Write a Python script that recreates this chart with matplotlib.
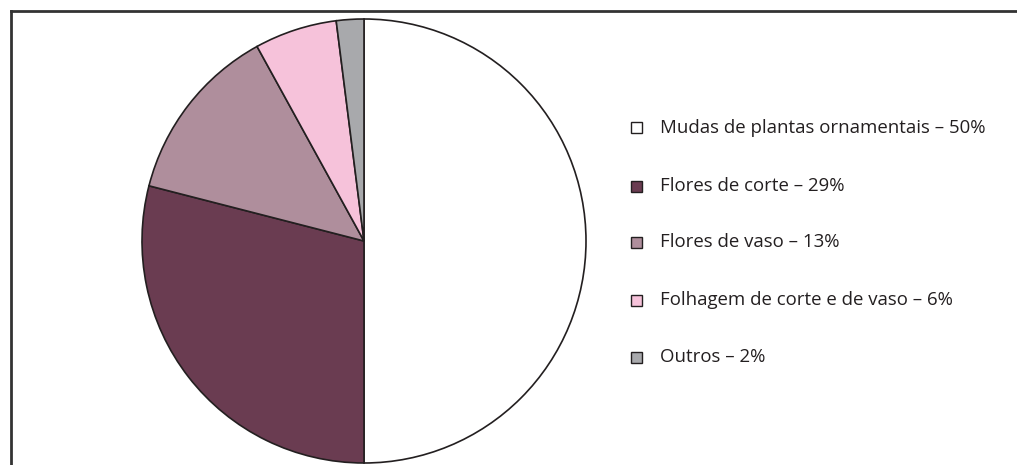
import matplotlib
matplotlib.use("Agg")
import matplotlib.pyplot as plt
from matplotlib.patches import Rectangle
from matplotlib.lines import Line2D

categories = ["Mudas de plantas ornamentais", "Flores de corte", "Flores de vaso",
              "Folhagem de corte e de vaso", "Outros"]
values = [50, 29, 13, 6, 2]
colors = ["#FFFFFF", "#6A3C51", "#AF8E9C", "#F6C2DA", "#A8A9AC"]

plt.rcParams['font.family'] = ['Open Sans', 'DejaVu Sans']

W, H = 1017, 465
fig = plt.figure(figsize=(W / 100, H / 100), dpi=100)

# pie axes: centre (364, 241 from top), radius 222 px
cx, cy, r = 364, H - 241, 222
ax = fig.add_axes([(cx - r) / W, (cy - r) / H, 2 * r / W, 2 * r / H])
wedges, _ = ax.pie(values, colors=colors, startangle=90, counterclock=False, radius=1,
                   wedgeprops=dict(edgecolor="#231F20", linewidth=1.2))
for w in wedges:
    w.set_clip_on(False)
ax.set_xlim(-1.0, 1.0)
ax.set_ylim(-1.0, 1.0)
ax.set_aspect("equal")
ax.axis("off")

# frame lines (top and left)
fig.add_artist(Line2D([10.5 / W, 1.0], [1 - 11.5 / H, 1 - 11.5 / H],
                      transform=fig.transFigure, color="#333333", lw=2))
fig.add_artist(Line2D([10.5 / W, 10.5 / W], [0, 1 - 11.5 / H],
                      transform=fig.transFigure, color="#333333", lw=2))

# legend
rows_y = [128, 186, 242, 300, 357]
mx, tx, ms = 636, 660, 11
for cat, val, col, y in zip(categories, values, colors, rows_y):
    fig.add_artist(Rectangle(((mx - ms / 2) / W, (H - y - ms / 2) / H), ms / W, ms / H,
                             transform=fig.transFigure, facecolor=col,
                             edgecolor="#231F20", lw=1.0))
    fig.text(tx / W, (H - y) / H, f"{cat} \u2013 {val}%", fontsize=13.4,
             color="#231F20", va="center", ha="left")

fig.savefig("out.png", dpi=100, facecolor="white")
